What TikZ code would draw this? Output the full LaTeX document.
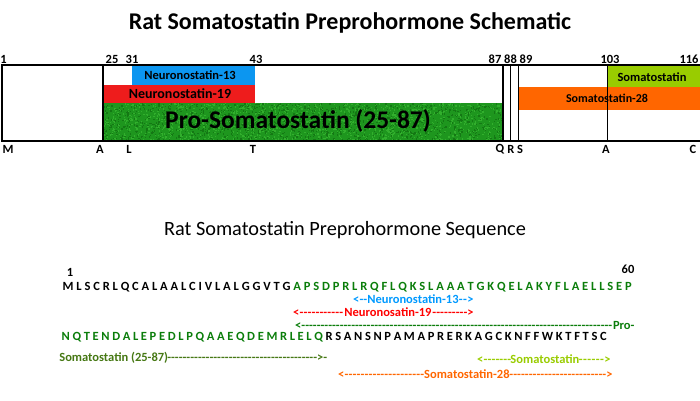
\documentclass[tikz,border=0pt]{standalone}
\usepackage{fontspec}
\setmainfont{Carlito}
\definecolor{boxblue}{RGB}{12,150,240}
\definecolor{boxred}{RGB}{238,28,28}
\definecolor{boxgreen}{RGB}{30,150,30}
\definecolor{grassdark}{RGB}{20,120,20}
\definecolor{grasslight}{RGB}{50,175,45}
\definecolor{boxlime}{RGB}{153,204,0}
\definecolor{boxorange}{RGB}{255,102,0}
\definecolor{seqgreen}{RGB}{10,125,10}
\definecolor{olive}{RGB}{70,120,20}
\definecolor{txtblue}{RGB}{0,153,255}
\definecolor{txtred}{RGB}{255,0,0}
\definecolor{txtlime}{RGB}{153,204,0}
\definecolor{txtorange}{RGB}{255,102,0}
\def\spr#1{\ifx#1\relax\else\hfil#1\expandafter\spr\fi}
\newcommand\dsh[1]{\xleaders\hbox{-}\hskip#1pt\relax}
\newcommand\lab[2]{\makebox[#1pt]{#2}}
\begin{document}
\begin{tikzpicture}[x=1pt,y=-1pt,
  lbl/.style={inner sep=0pt,font=\fontsize{12.5}{13}\selectfont\bfseries},
  seq/.style={inner sep=0pt,anchor=west,font=\fontsize{12.5}{13}\selectfont\bfseries},
  ann/.style={inner sep=0pt,anchor=west,font=\fontsize{12.5}{13}\selectfont\bfseries},
  boxlbl/.style={inner sep=0pt,font=\fontsize{#1}{#1}\selectfont\bfseries},
  frame/.style={draw=black,line width=1.2pt}]
\useasboundingbox (0,0) rectangle (700,400);
% title
\node[inner sep=0pt,font=\fontsize{24}{28}\selectfont\bfseries] (title) at (350,23) {Rat Somatostatin Preprohormone Schematic};
% coloured regions
\fill[boxblue] (132,65) rectangle (255,85);
\fill[boxred] (103,85) rectangle (255,103);
\fill[boxgreen] (103,103) rectangle (503,141);
\pgfmathsetseed{7}
\begin{scope}
\clip (103,103) rectangle (503,141);
\foreach \k in {1,...,1400}{
  \pgfmathsetmacro\rx{103+400*rnd}\pgfmathsetmacro\ry{103+38*rnd}
  \fill[grassdark] (\rx,\ry) rectangle ++(1.3,1.3);
  \pgfmathsetmacro\sx{103+400*rnd}\pgfmathsetmacro\sy{103+38*rnd}
  \fill[grasslight] (\sx,\sy) rectangle ++(1.3,1.3);
}
\end{scope}
\fill[boxlime] (607,65) rectangle (700,87);
\fill[boxorange] (518,87) rectangle (700,110);
% frame
\draw[frame] (2,65) rectangle (701,141);
\foreach \xx in {103,503,510.7,518.3,607.3} \draw[frame] (\xx,65) -- (\xx,141);
% region labels
\node[boxlbl=12.5] (n13) at (190,75) {Neuronostatin-13};
\node[boxlbl=14] (n19) at (180,94) {Neuronostatin-19};
\node[boxlbl=25.5] (pro) at (298,121) {Pro-Somatostatin (25-87)};
\node[boxlbl=12.5] (som) at (652,77) {Somatostatin};
\node[boxlbl=12] (s28) at (607,98) {Somatostatin-28};
% numbers
\foreach \xx/\tt [count=\i] in {3.5/1,112/25,132/31,256/43,495/87,510.5/88,526/89,610/103,689/116}
  \node[lbl] (num\i) at (\xx,59) {\tt};
% residue letters
\foreach \xx/\tt [count=\i] in {8/M,100/A,129/L,253/T,500/Q,511/R,520/S,606/A,693/C}
  \node[lbl] (res\i) at (\xx,149) {\tt};
% sequence title
\node[inner sep=0pt,font=\fontsize{20.3}{24}\selectfont] (stitle) at (345,230) {Rat Somatostatin Preprohormone Sequence};
\node[lbl] (one) at (70,272) {1};
\node[lbl] (sixty) at (628,269) {60};
% sequence rows
\node[seq] (row1) at (62.5,287) {\hbox to 569pt{M\spr LSCRLQCALAALCIVLALGGVTG\relax\hfil\color{seqgreen}A\spr PSDPRLRQFLQKSLAAATGKQELAKYFLAELLSEP\relax}};
\node[seq] (row2) at (61.5,337) {\hbox to 545pt{\color{seqgreen}N\spr QTENDALEPEDLPQAAEQDEMRLELQ\relax\hfil\color{black}R\spr SANSNPAMAPRERKAGCKNFFWKTFTSC\relax}};
% annotations
\node[ann,text=txtblue] (a13) at (353,299) {<\dsh{8}\lab{91}{Neuronostatin-13}\dsh{9}>};
\node[ann,text=txtred] (a19) at (293,312) {<\dsh{44}\lab{89}{Neuronosatin-19}\dsh{35}>};
\node[ann,text=seqgreen] (apro) at (295,325) {<\dsh{311}\lab{23}{Pro-}};
\node[ann,text=olive] (a2587) at (60,358) {\lab{107}{Somatostatin (25-87)}\dsh{150}>-};
\node[ann,text=txtlime] (asom) at (477,359) {<\dsh{28}\lab{67}{Somatostatin}\dsh{26}>};
\node[ann,text=txtorange] (a28) at (338,374) {<\dsh{80}\lab{85}{Somatostatin-28}\dsh{97}>};
\end{tikzpicture}
\end{document}
